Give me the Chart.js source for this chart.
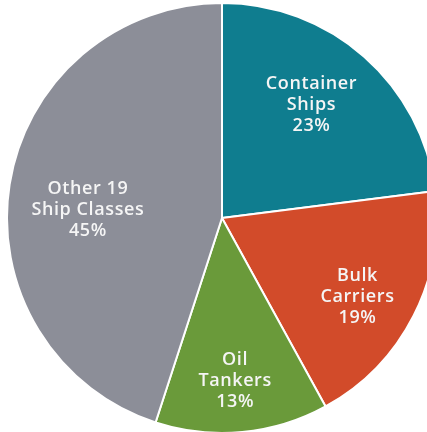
<!DOCTYPE html>
<html>
<head>
<meta charset="utf-8">
<script src="https://cdn.jsdelivr.net/npm/chart.js@4/dist/chart.umd.min.js"></script>
<style>
  html, body { margin: 0; padding: 0; background: #ffffff; overflow: hidden; width: 427px; height: 432px; }
  #c { position: absolute; left: 6px; top: 2px; }
</style>
</head>
<body>
<canvas id="c" width="432" height="432"></canvas>
<script>
// Data
const categories = ["Container Ships", "Bulk Carriers", "Oil Tankers", "Other 19 Ship Classes"];
const shareValues = [23, 19, 13, 45];
const labelLines = [
  ["Container", "Ships", "23%"],
  ["Bulk", "Carriers", "19%"],
  ["Oil", "Tankers", "13%"],
  ["Other 19", "Ship Classes", "45%"]
];

// Styling (not data)
const sliceColors = ["#0f7d8f", "#d24b2a", "#6a9a3a", "#8c8e98"];
const labelRadiusFrac = [0.67, 0.73, 0.76, 0.625];
const labelAngleShiftDeg = [-3, 3.3, 0.8, -5.6];

const labelPlugin = {
  id: 'sliceLabels',
  afterDatasetsDraw(chart) {
    const ctx = chart.ctx;
    const meta = chart.getDatasetMeta(0);
    ctx.save();
    ctx.fillStyle = '#f5f5f5';
    ctx.font = '600 18px "Open Sans", sans-serif';
    if ('letterSpacing' in ctx) ctx.letterSpacing = '0.6px';
    ctx.textAlign = 'center';
    ctx.textBaseline = 'middle';
    const lineH = 21;
    meta.data.forEach((arc, i) => {
      const p = arc.getProps(['x', 'y', 'startAngle', 'endAngle', 'outerRadius'], true);
      const mid = (p.startAngle + p.endAngle) / 2 + labelAngleShiftDeg[i] * Math.PI / 180;
      const r = p.outerRadius * labelRadiusFrac[i];
      const cx = p.x + Math.cos(mid) * r;
      const cy = p.y + Math.sin(mid) * r;
      const lines = labelLines[i];
      const y0 = cy - (lines.length - 1) * lineH / 2;
      lines.forEach((t, k) => ctx.fillText(t, cx, y0 + k * lineH));
    });
    ctx.restore();
  }
};

new Chart(document.getElementById('c'), {
  type: 'pie',
  data: {
    labels: categories,
    datasets: [{
      data: shareValues,
      backgroundColor: sliceColors,
      borderColor: '#ffffff',
      borderWidth: 2,
      hoverOffset: 0
    }]
  },
  options: {
    responsive: false,
    animation: false,
    layout: { padding: 0 },
    plugins: {
      legend: { display: false },
      tooltip: { enabled: false }
    }
  },
  plugins: [labelPlugin]
});
</script>
</body>
</html>
